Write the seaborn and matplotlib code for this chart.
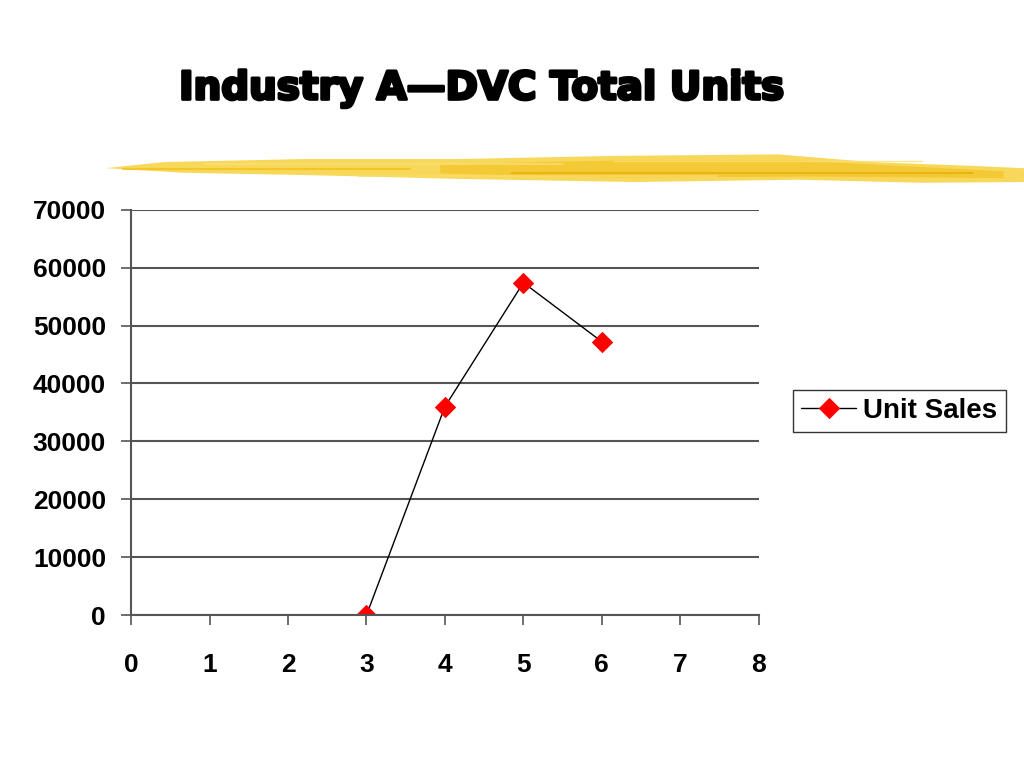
import seaborn as sns
import pandas as pd
import numpy as np
import matplotlib.pyplot as plt
import matplotlib.patheffects as pe
from matplotlib.patches import Polygon

# chart values
years = [3, 4, 5, 6]
unit_sales = [0, 36000, 57400, 47200]
series_name = "Unit Sales"
title = "Industry A\u2014DVC Total Units"

df = pd.DataFrame({"x": years, "y": unit_sales})

sns.set_style("white")
plt.rcParams['font.family'] = ['Liberation Sans', 'DejaVu Sans']
plt.rcParams['text.color'] = 'black'
plt.rcParams['xtick.color'] = 'black'
plt.rcParams['ytick.color'] = 'black'

fig = plt.figure(figsize=(10.24, 7.68), dpi=100)
ax = fig.add_axes([0.128, 0.199, 0.613, 0.528])

sns.lineplot(data=df, x="x", y="y", ax=ax, color="black", linewidth=1,
             marker="D", markersize=10, markerfacecolor="red",
             markeredgecolor="red", label=series_name)

ax.set_xlim(0, 8)
ax.set_ylim(0, 70000)
ax.set_xticks(range(0, 9))
ax.set_yticks(range(0, 70001, 10000))
ax.yaxis.grid(True, color="#555555", linewidth=1.5)
ax.set_axisbelow(True)
for s in ["top", "right"]:
    ax.spines[s].set_visible(False)
for s in ["left", "bottom"]:
    ax.spines[s].set_color("#555555")
    ax.spines[s].set_linewidth(1.5)
ax.tick_params(axis="both", which="both", direction="out", length=7,
               width=1.2, color="#555555", labelsize=19,
               left=True, bottom=True, labelcolor="black")
ax.tick_params(axis="x", pad=20)
ax.tick_params(axis="y", pad=11)
for lbl in ax.get_xticklabels() + ax.get_yticklabels():
    lbl.set_fontweight("bold")
ax.set_xlabel("")
ax.set_ylabel("")

leg = ax.legend(loc="center left", bbox_to_anchor=(0.774, 0.465),
                bbox_transform=fig.transFigure, frameon=True, fancybox=False,
                prop={"size": 20, "weight": "bold"}, handlelength=2.0,
                handletextpad=0.25, borderpad=0.3, borderaxespad=0)
leg.get_frame().set_edgecolor("black")
leg.get_frame().set_linewidth(1)

fig.text(0.47, 0.885, title, ha="center", va="center",
         fontsize=28, fontweight="bold", family=["DejaVu Sans"],
         path_effects=[pe.withStroke(linewidth=2.2, foreground="black")])

# yellow brush stroke under the title
stroke = [(0.103, 0.781), (0.16, 0.789), (0.30, 0.793), (0.45, 0.793),
          (0.60, 0.797), (0.76, 0.799), (0.85, 0.789), (0.95, 0.784),
          (1.0, 0.781), (1.0, 0.763), (0.90, 0.762), (0.78, 0.766),
          (0.62, 0.763), (0.45, 0.767), (0.30, 0.772), (0.18, 0.775)]
fig.add_artist(Polygon(stroke, closed=True, transform=fig.transFigure,
                       facecolor="#F8D448", edgecolor="none", alpha=0.9))
streak = [(0.43, 0.786), (0.60, 0.791), (0.78, 0.791), (0.98, 0.777),
          (0.98, 0.768), (0.80, 0.770), (0.60, 0.769), (0.43, 0.774)]
fig.add_artist(Polygon(streak, closed=True, transform=fig.transFigure,
                       facecolor="#EFB300", edgecolor="none", alpha=0.4))
for x0, x1, y, c, w in [(0.12, 0.40, 0.780, "#F2C21A", 1.5),
                        (0.20, 0.55, 0.786, "#FBE07A", 1.2),
                        (0.50, 0.95, 0.775, "#E9AE05", 1.5),
                        (0.60, 0.90, 0.790, "#FBE07A", 1.0),
                        (0.35, 0.70, 0.771, "#FBDD6A", 1.2)]:
    fig.add_artist(plt.Line2D([x0, x1], [y, y], transform=fig.transFigure,
                              color=c, linewidth=w, alpha=0.8))

fig.savefig("out.png", dpi=100)
